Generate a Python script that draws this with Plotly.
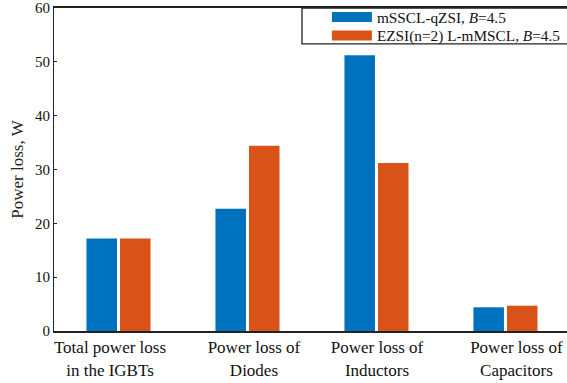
import plotly.graph_objects as go

categories = ["Total power loss<br>in the IGBTs", "Power loss of<br>Diodes",
              "Power loss of<br>Inductors", "Power loss of<br>Capacitors"]
label_pos = [0.934, 2.05, 3.004, 4.085]
series1_name = "mSSCL-qZSI, <i>B</i>=4.5"
series2_name = "EZSI(n=2) L-mMSCL, <i>B</i>=4.5"
series1 = [17.2, 22.7, 51.2, 4.4]
series2 = [17.2, 34.4, 31.2, 4.7]
xpos = [1, 2, 3, 4]
yticks = [0, 10, 20, 30, 40, 50, 60]
colors = ["#0072BD", "#D95319"]

font = "Liberation Serif, Times New Roman, serif"
fig = go.Figure()
fig.add_trace(go.Bar(x=xpos, y=series1, name=series1_name, showlegend=False,
                     marker=dict(color=colors[0], line=dict(width=0))))
fig.add_trace(go.Bar(x=xpos, y=series2, name=series2_name, showlegend=False,
                     marker=dict(color=colors[1], line=dict(width=0))))
# legend entries with wide swatches, one legend per row
for nm, c, lg in zip([series1_name, series2_name], colors, ["legend", "legend2"]):
    fig.add_trace(go.Scatter(x=[None], y=[None], mode="lines", name=nm, legend=lg,
                             line=dict(color=c, width=12)))

# legend box
fig.add_shape(type="rect", xref="paper", yref="paper",
              x0=0.4834, x1=1.05, y0=0.889, y1=1.0,
              line=dict(color="#222", width=1.3), fillcolor="white", layer="above")

leg_common = dict(xanchor="left", yanchor="middle", borderwidth=0,
                  bgcolor="rgba(0,0,0,0)",
                  font=dict(size=15.3, family=font, color="#111"), itemwidth=40)
fig.update_layout(
    width=567, height=383,
    margin=dict(l=54, r=0, t=8, b=52, autoexpand=False),
    barmode="group", bargap=0.48, bargroupgap=0.09,
    plot_bgcolor="white", paper_bgcolor="white",
    font=dict(family=font, size=16, color="#222"),
    showlegend=True,
    legend=dict(x=0.532, y=0.972, **leg_common),
    legend2=dict(x=0.532, y=0.915, **leg_common),
)
fig.update_xaxes(tickvals=label_pos, ticktext=categories, range=[0.5, 4.477],
                 showline=True, linecolor="#222", linewidth=2, mirror=True,
                 ticks="", showgrid=False, zeroline=False, ticklabeloverflow="allow",
                 tickfont=dict(size=17, family=font, color="#111"))
fig.update_yaxes(range=[0, 60], tickvals=yticks, ticktext=[str(v) for v in yticks],
                 showline=True, linecolor="#222", linewidth=1.2,
                 mirror=True, ticks="inside", ticklen=3, tickcolor="#222",
                 showgrid=False, zeroline=False, ticklabeloverflow="allow",
                 title=dict(text="Power loss, W", font=dict(size=17, family=font), standoff=6),
                 tickfont=dict(size=15, family=font, color="#111"))
fig.write_html("out.html")
